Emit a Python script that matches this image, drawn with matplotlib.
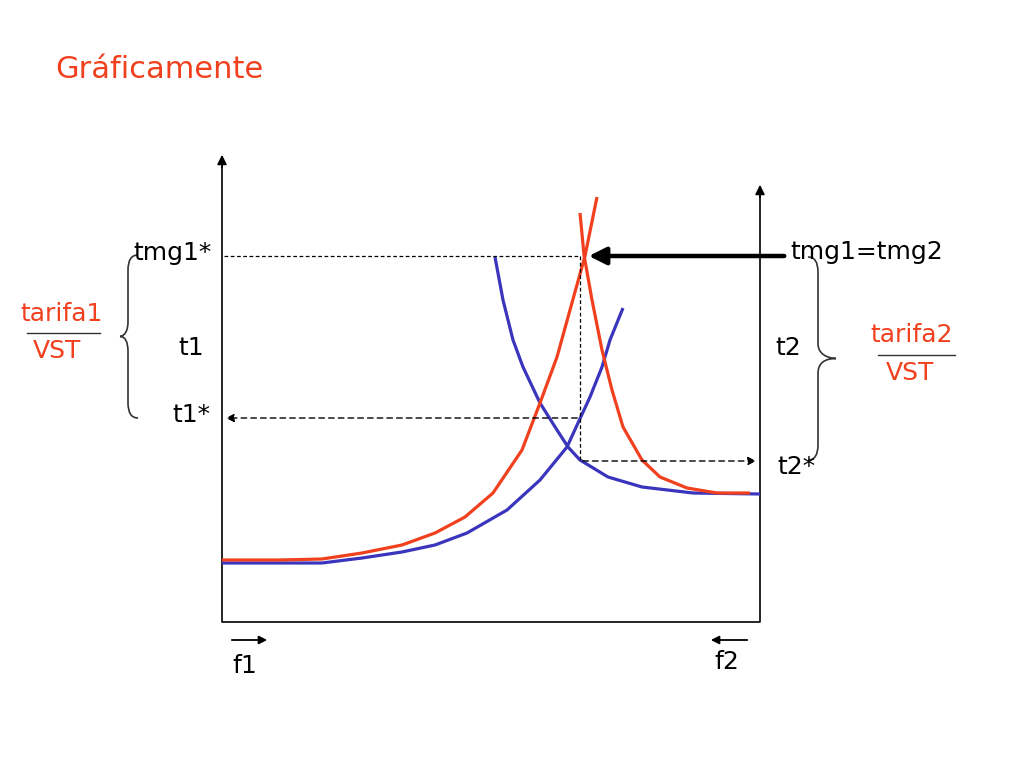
import matplotlib.pyplot as plt
from matplotlib.path import Path
from matplotlib.patches import PathPatch

# curve points (pixel coords, y down)
red_up_x = [222, 280, 322, 362, 402, 435, 465, 493, 522, 540, 557, 570, 585, 597]
red_up_y = [560, 560, 559, 553, 545, 533, 517, 493, 450, 403, 357, 310, 256, 197]
blue_up_x = [222, 280, 322, 362, 402, 435, 467, 507, 540, 567, 578, 590, 602, 610, 623]
blue_up_y = [563, 563, 563, 558, 552, 545, 533, 510, 480, 447, 423, 397, 367, 340, 308]
red_dn_x = [580, 584, 592, 602, 612, 623, 642, 660, 687, 717, 750]
red_dn_y = [213, 255, 300, 350, 390, 427, 460, 477, 488, 493, 493]
blue_dn_x = [495, 503, 513, 523, 540, 557, 568, 580, 608, 642, 693, 760]
blue_dn_y = [257, 300, 340, 367, 403, 430, 447, 460, 477, 487, 493, 494]

RED = '#F0401E'
BLUE = '#3A35BC'
FONT = 'DejaVu Sans'

fig = plt.figure(figsize=(10.24, 7.68), dpi=100)
ax = fig.add_axes([0, 0, 1, 1])
ax.set_xlim(0, 1024)
ax.set_ylim(768, 0)
ax.axis('off')

# axes of the diagram
ax.plot([222, 222, 760, 760], [165, 622, 622, 195], color='black', lw=1.2)
ax.annotate('', xy=(222, 152), xytext=(222, 170),
            arrowprops=dict(arrowstyle='-|>', color='black', lw=1.2, mutation_scale=14))
ax.annotate('', xy=(760, 182), xytext=(760, 200),
            arrowprops=dict(arrowstyle='-|>', color='black', lw=1.2, mutation_scale=14))

# curves
kw = dict(lw=2.3, solid_capstyle='butt', solid_joinstyle='round')
ax.plot(blue_up_x, blue_up_y, color=BLUE, **kw)
ax.plot(blue_dn_x, blue_dn_y, color=BLUE, **kw)
ax.plot(red_up_x, red_up_y, color=RED, **kw)
ax.plot(red_dn_x, red_dn_y, color=RED, **kw)

# dashed guides
ax.plot([224, 580], [256, 256], color='black', lw=0.9, ls=(0, (3, 2)))
ax.plot([580, 580], [256, 461], color='black', lw=0.9, ls=(0, (3, 2)))
ax.annotate('', xy=(223, 418), xytext=(580, 418),
            arrowprops=dict(arrowstyle='-|>', color='black', lw=1.0, ls=(0, (4, 3)), mutation_scale=12))
ax.annotate('', xy=(759, 461), xytext=(580, 461),
            arrowprops=dict(arrowstyle='-|>', color='black', lw=1.0, ls=(0, (4, 3)), mutation_scale=12))

# thick arrow to the crossing
ax.annotate('', xy=(586, 256), xytext=(787, 256),
            arrowprops=dict(arrowstyle='-|>', color='black', lw=3.2, mutation_scale=26))

# f1 / f2 arrows
ax.annotate('', xy=(270, 640), xytext=(229, 640),
            arrowprops=dict(arrowstyle='-|>', color='black', lw=1.3, mutation_scale=12))
ax.annotate('', xy=(708, 640), xytext=(750, 640),
            arrowprops=dict(arrowstyle='-|>', color='black', lw=1.3, mutation_scale=12))


def brace(x0, y0, y1, tip, d):
    # curly brace from (x0, y0) to (x0, y1) with its point at x=tip
    ym = (y0 + y1) / 2
    xs = x0 + d
    verts = [(x0, y0), (xs, y0), (xs, y0 + 15),
             (xs, ym - 15),
             (xs, ym), (tip, ym), (tip, ym),
             (xs, ym), (xs, ym + 15),
             (xs, y1 - 15),
             (xs, y1), (x0, y1), (x0, y1)]
    codes = [Path.MOVETO, Path.CURVE3, Path.CURVE3,
             Path.LINETO,
             Path.CURVE4, Path.CURVE4, Path.CURVE4,
             Path.CURVE3, Path.CURVE3,
             Path.LINETO,
             Path.CURVE3, Path.CURVE3, Path.LINETO]
    ax.add_patch(PathPatch(Path(verts, codes), fill=False, color='#333333', lw=1.2))


brace(138, 255, 418, 120, -10)
brace(808, 257, 460, 836, 10)

# labels
tk = dict(fontsize=18, family=FONT, color='black', va='center')
ax.text(55, 70, 'Gráficamente', fontsize=22, family=FONT, color=RED, va='center', ha='left')
ax.text(212, 253, 'tmg1*', ha='right', **tk)
ax.text(204, 348, 't1', ha='right', **tk)
ax.text(210, 415, 't1*', ha='right', **tk)
ax.text(790, 252, 'tmg1=tmg2', ha='left', **tk)
ax.text(775, 348, 't2', ha='left', **tk)
ax.text(777, 467, 't2*', ha='left', **tk)
ax.text(232, 666, 'f1', ha='left', **tk)
ax.text(714, 662, 'f2', ha='left', **tk)

rk = dict(fontsize=18, family=FONT, color=RED, va='center', ha='center')
ax.text(62, 314, 'tarifa1', **rk)
ax.plot([27, 100], [333, 333], color='#333333', lw=1.0)
ax.text(57, 351, 'VST', **rk)
ax.text(912, 335, 'tarifa2', **rk)
ax.plot([878, 955], [355, 355], color='#333333', lw=1.0)
ax.text(910, 373, 'VST', **rk)

fig.savefig('out.png', dpi=100)
